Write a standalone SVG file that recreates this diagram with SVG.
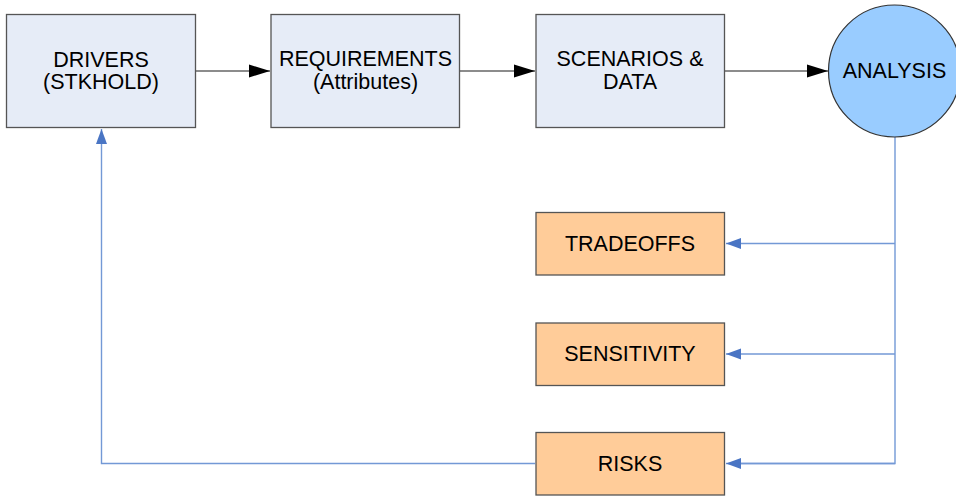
<svg xmlns="http://www.w3.org/2000/svg" width="956" height="497" viewBox="0 0 956 497">
  <style>
    .proc { fill: #E6ECF7; stroke: #555555; stroke-width: 1.3; }
    .out { fill: #FFCC99; stroke: #555555; stroke-width: 1.3; }
    .hub { fill: #99CCFF; stroke: #333333; stroke-width: 1.2; }
    .lbl { font-family: "Liberation Sans", Arial, sans-serif; font-size: 21.5px; fill: #000000; text-anchor: middle; }
    .flow { fill: none; stroke: #666666; stroke-width: 1.4; }
    .feed { fill: none; stroke: #7399D6; stroke-width: 1.4; }
  </style>
  <defs>
    <marker id="blackHead" markerUnits="userSpaceOnUse" markerWidth="22" markerHeight="14" refX="21" refY="7" orient="auto">
      <path d="M0,0.5 L21,7 L0,13.5 Z" fill="#000000"/>
    </marker>
    <marker id="blueHead" markerUnits="userSpaceOnUse" markerWidth="16" markerHeight="12" refX="15" refY="6" orient="auto">
      <path d="M0,0.5 L15,6 L0,11.5 Z" fill="#4A75C4"/>
    </marker>
  </defs>

  <g id="connectors">
    <line class="flow" x1="196" y1="71" x2="270" y2="71" marker-end="url(#blackHead)"/>
    <line class="flow" x1="460" y1="71" x2="535" y2="71" marker-end="url(#blackHead)"/>
    <line class="flow" x1="725" y1="71" x2="828" y2="71" marker-end="url(#blackHead)"/>
    <polyline class="feed" points="895,137 895,463.5 739,463.5"/>
    <line class="feed" x1="895" y1="243.5" x2="726" y2="243.5" marker-end="url(#blueHead)"/>
    <line class="feed" x1="895" y1="354" x2="726" y2="354" marker-end="url(#blueHead)"/>
    <line class="feed" x1="895" y1="463.5" x2="726" y2="463.5" marker-end="url(#blueHead)"/>
    <polyline class="feed" points="535,463.5 101.5,463.5 101.5,129" marker-end="url(#blueHead)"/>
  </g>

  <g id="drivers">
    <rect class="proc" x="6.5" y="14.5" width="189" height="113"/>
    <text class="lbl" x="101" y="66.5">DRIVERS</text>
    <text class="lbl" x="101" y="89">(STKHOLD)</text>
  </g>
  <g id="requirements">
    <rect class="proc" x="271" y="14.5" width="188.5" height="113"/>
    <text class="lbl" x="365.5" y="66">REQUIREMENTS</text>
    <text class="lbl" x="365.5" y="89">(Attributes)</text>
  </g>
  <g id="scenarios">
    <rect class="proc" x="536" y="14.5" width="188.5" height="113"/>
    <text class="lbl" x="630" y="66">SCENARIOS &amp;</text>
    <text class="lbl" x="630" y="89">DATA</text>
  </g>
  <g id="analysis">
    <circle class="hub" cx="894.5" cy="71" r="66"/>
    <text class="lbl" x="894.5" y="78">ANALYSIS</text>
  </g>
  <g id="tradeoffs">
    <rect class="out" x="536" y="212.5" width="188.5" height="62.5"/>
    <text class="lbl" x="630" y="250.5">TRADEOFFS</text>
  </g>
  <g id="sensitivity">
    <rect class="out" x="536" y="323" width="188.5" height="62.5"/>
    <text class="lbl" x="630" y="360.5">SENSITIVITY</text>
  </g>
  <g id="risks">
    <rect class="out" x="536" y="432.5" width="188.5" height="62.5"/>
    <text class="lbl" x="630" y="470.5">RISKS</text>
  </g>
</svg>
